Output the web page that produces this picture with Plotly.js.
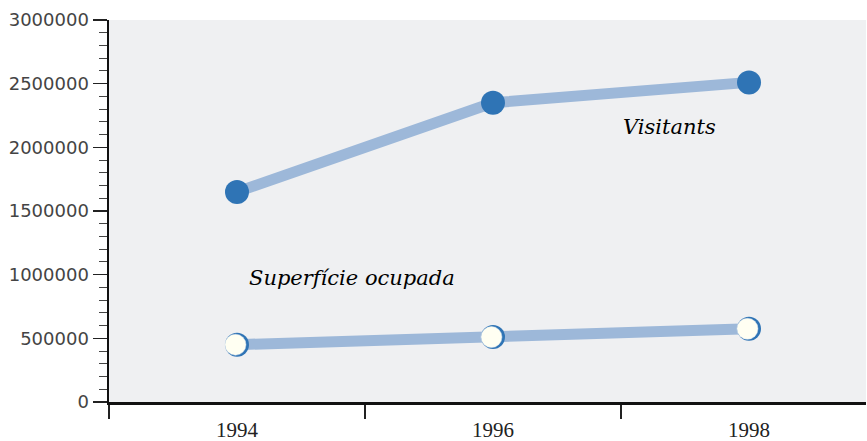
<!DOCTYPE html>
<html>
<head>
<meta charset="utf-8">
<script src="https://cdn.plot.ly/plotly-3.0.1.min.js"></script>
<style>
  body { margin: 0; background: #fff; }
  #chart { width: 867px; height: 441px; }
</style>
</head>
<body>
<div id="chart"></div>
<script>
var years = ['1994', '1996', '1998'];
var visitants = [1650000, 2350000, 2510000];
var superficie = [450000, 510000, 575000];

var lineColor = '#9db8d9';
var dotColor = '#2f74b5';

var data = [
  { type: 'scatter', mode: 'lines', x: years, y: visitants,
    line: {color: lineColor, width: 11}, hoverinfo: 'skip', showlegend: false },
  { type: 'scatter', mode: 'markers', x: years, y: visitants,
    marker: {size: 24, color: dotColor}, name: 'Visitants', showlegend: false },
  { type: 'scatter', mode: 'lines', x: years, y: superficie,
    line: {color: lineColor, width: 11}, hoverinfo: 'skip', showlegend: false },
  // blue shadow behind the light dots
  { type: 'scatter', mode: 'markers', x: years, y: superficie,
    marker: {size: 24, color: dotColor}, hoverinfo: 'skip', showlegend: false },
  // light dots, drawn on a slightly shifted overlay axis
  { type: 'scatter', mode: 'markers', x: years, y: superficie, xaxis: 'x2',
    marker: {size: 21, color: '#fffff2', line: {color: '#d8e2ee', width: 0.5}},
    name: 'Superfície ocupada', showlegend: false }
];

var layout = {
  width: 867,
  height: 441,
  margin: {l: 109, r: 1, t: 20, b: 39},
  paper_bgcolor: '#ffffff',
  plot_bgcolor: '#eff0f2',
  showlegend: false,
  xaxis: {
    type: 'category',
    range: [-0.5, 2.457],
    tickson: 'boundaries',
    ticks: 'outside', ticklen: 14, tickwidth: 1.2, tickcolor: '#222',
    ticklabelstandoff: 7,
    showline: true, linecolor: '#111', linewidth: 2.5,
    showgrid: false, zeroline: false,
    tickfont: {family: 'Liberation Serif', size: 21, color: '#222'}
  },
  xaxis2: {
    type: 'category',
    overlaying: 'x',
    range: [-0.5 + 0.006, 2.457 + 0.006],
    visible: false
  },
  yaxis: {
    range: [0, 3000000],
    dtick: 500000,
    tickformat: 'd',
    ticks: 'outside', ticklen: 14, tickwidth: 1.2, tickcolor: '#222',
    minor: {dtick: 100000, ticks: 'outside', ticklen: 8, tickwidth: 1, tickcolor: '#444'},
    showline: true, linecolor: '#111', linewidth: 2.5,
    showgrid: false, zeroline: false,
    tickfont: {family: 'DejaVu Sans', size: 18, color: '#444'}
  },
  annotations: [
    { text: '<i>Visitants</i>', xref: 'paper', yref: 'paper', x: 0.74, y: 0.72,
      showarrow: false, xanchor: 'center', yanchor: 'middle',
      font: {family: 'DejaVu Serif', size: 21, color: '#000'} },
    { text: '<i>Superfície ocupada</i>', xref: 'paper', yref: 'paper', x: 0.321, y: 0.325,
      showarrow: false, xanchor: 'center', yanchor: 'middle',
      font: {family: 'DejaVu Serif', size: 21, color: '#000'} }
  ]
};

Plotly.newPlot('chart', data, layout, {displayModeBar: false, staticPlot: true});
</script>
</body>
</html>
